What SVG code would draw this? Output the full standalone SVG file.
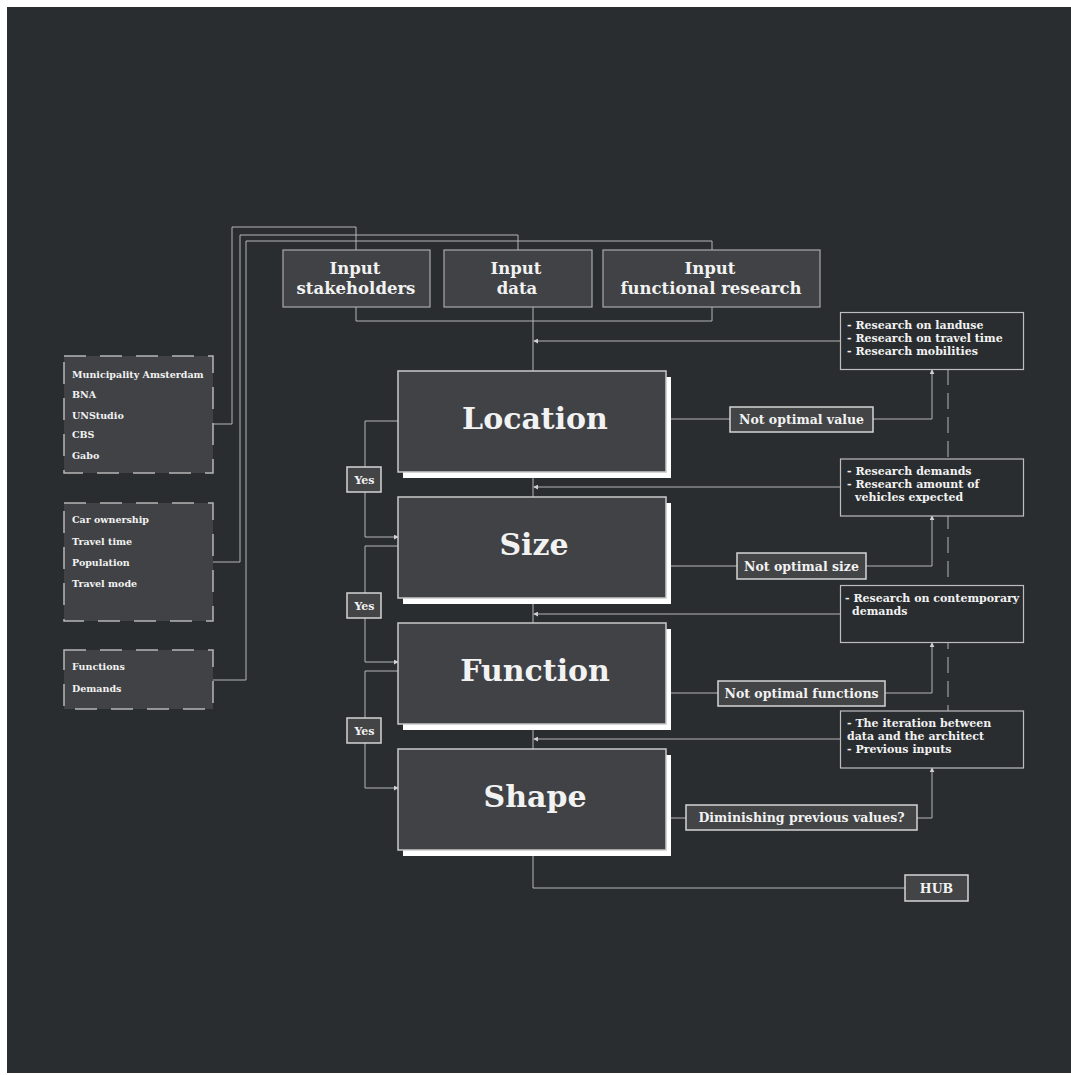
<svg xmlns="http://www.w3.org/2000/svg" width="1071" height="1075" viewBox="0 0 1071 1075">
<style>
text{font-family:"DejaVu Serif","Liberation Serif",serif;font-weight:bold;fill:#f2f2f2}
.bg{fill:#2a2d30}
.main{fill:#404245;stroke:#c9c9c9;stroke-width:1.5}
.shadow{fill:#ffffff}
.inp{fill:#404245;stroke:#a9a9a9;stroke-width:1.2}
.lbl{fill:#424446;stroke:#d4d4d4;stroke-width:1.5}
.res{fill:#2a2d30;stroke:#bdbdbd;stroke-width:1.2}
.dash{fill:#404245;stroke:#b5b5b5;stroke-width:1.5;stroke-dasharray:22 14}
.ln{fill:none;stroke:#b5b5b5;stroke-width:1}
.big{font-size:30px;text-anchor:middle}
.inT{font-size:16.5px;text-anchor:middle}
.lt{font-size:12.5px;text-anchor:middle}
.rt{font-size:11px}
.st{font-size:9.5px}
.yes{font-size:11px;text-anchor:middle}
</style>
<defs>
<marker id="ah" viewBox="0 0 6 6" refX="5" refY="3" markerWidth="5" markerHeight="5" orient="auto" markerUnits="userSpaceOnUse">
<path d="M0,0 L6,3 L0,6 z" fill="#d0d0d0"/>
</marker>
</defs>
<rect x="0" y="0" width="1071" height="1075" fill="#ffffff"/>
<rect class="bg" x="7" y="7" width="1064" height="1066"/>

<g id="connectors">
<polyline class="ln" points="213,424 232,424 232,227 356,227 356,250"/>
<polyline class="ln" points="213,562 240,562 240,235 518,235 518,250"/>
<polyline class="ln" points="213,680 246,680 246,241 712,241 712,250"/>
<polyline class="ln" points="356,307 356,321 712,321 712,307"/>
<line class="ln" x1="533" y1="307" x2="533" y2="371"/>
<line class="ln" x1="840" y1="341" x2="534" y2="341" marker-end="url(#ah)"/>
<line class="ln" x1="533" y1="472" x2="533" y2="497"/>
<line class="ln" x1="840" y1="487" x2="534" y2="487" marker-end="url(#ah)"/>
<line class="ln" x1="533" y1="598" x2="533" y2="623"/>
<line class="ln" x1="840" y1="614" x2="534" y2="614" marker-end="url(#ah)"/>
<line class="ln" x1="533" y1="724" x2="533" y2="749"/>
<line class="ln" x1="840" y1="739" x2="534" y2="739" marker-end="url(#ah)"/>
<polyline class="ln" points="533,849 533,888 905,888"/>
<line class="ln" x1="666" y1="419" x2="730" y2="419"/>
<polyline class="ln" points="873,419 932,419 932,370" marker-end="url(#ah)"/>
<line class="ln" x1="666" y1="566" x2="737" y2="566"/>
<polyline class="ln" points="866,566 932,566 932,516" marker-end="url(#ah)"/>
<line class="ln" x1="666" y1="693" x2="718" y2="693"/>
<polyline class="ln" points="885,693 932,693 932,643" marker-end="url(#ah)"/>
<line class="ln" x1="666" y1="818" x2="686" y2="818"/>
<polyline class="ln" points="917,818 932,818 932,768" marker-end="url(#ah)"/>
<line class="ln" x1="948" y1="369" x2="948" y2="711" stroke-dasharray="16 8"/>
<polyline class="ln" points="398,421 365,421 365,467"/>
<polyline class="ln" points="365,492 365,537 398,537" marker-end="url(#ah)"/>
<polyline class="ln" points="398,546 365,546 365,593"/>
<polyline class="ln" points="365,618 365,662 398,662" marker-end="url(#ah)"/>
<polyline class="ln" points="398,671 365,671 365,718"/>
<polyline class="ln" points="365,743 365,788 398,788" marker-end="url(#ah)"/>
</g>

<g id="input-stakeholders">
<rect class="inp" x="283" y="250" width="147" height="57"/>
<text class="inT" x="355" y="274">Input</text>
<text class="inT" x="356" y="294">stakeholders</text>
</g>
<g id="input-data">
<rect class="inp" x="444" y="250" width="148" height="57"/>
<text class="inT" x="516" y="274">Input</text>
<text class="inT" x="517" y="294">data</text>
</g>
<g id="input-functional">
<rect class="inp" x="603" y="250" width="217" height="57"/>
<text class="inT" x="710" y="274">Input</text>
<text class="inT" x="711" y="294">functional research</text>
</g>

<g id="stakeholders-list">
<rect class="dash" x="64" y="356" width="149" height="117"/>
<text class="st" x="72" y="378">Municipality Amsterdam</text>
<text class="st" x="72" y="398">BNA</text>
<text class="st" x="72" y="419">UNStudio</text>
<text class="st" x="72" y="438">CBS</text>
<text class="st" x="72" y="459">Gabo</text>
</g>
<g id="data-list">
<rect class="dash" x="64" y="503" width="149" height="118"/>
<text class="st" x="72" y="523">Car ownership</text>
<text class="st" x="72" y="545">Travel time</text>
<text class="st" x="72" y="566">Population</text>
<text class="st" x="72" y="587">Travel mode</text>
</g>
<g id="functions-list">
<rect class="dash" x="64" y="650" width="149" height="59"/>
<text class="st" x="72" y="670">Functions</text>
<text class="st" x="72" y="692">Demands</text>
</g>

<g id="location">
<rect class="shadow" x="403" y="377" width="268" height="101"/>
<rect class="main" x="398" y="371" width="268" height="101"/>
<text class="big" x="535" y="429">Location</text>
</g>
<g id="size">
<rect class="shadow" x="403" y="503" width="268" height="101"/>
<rect class="main" x="398" y="497" width="268" height="101"/>
<text class="big" x="534" y="555">Size</text>
</g>
<g id="function">
<rect class="shadow" x="403" y="629" width="268" height="101"/>
<rect class="main" x="398" y="623" width="268" height="101"/>
<text class="big" x="535" y="681">Function</text>
</g>
<g id="shape">
<rect class="shadow" x="403" y="755" width="268" height="101"/>
<rect class="main" x="398" y="749" width="268" height="101"/>
<text class="big" x="535" y="807">Shape</text>
</g>

<g id="yes1">
<rect class="lbl" x="347" y="467" width="34" height="25" stroke-width="1"/>
<text class="yes" x="364.5" y="484">Yes</text>
</g>
<g id="yes2">
<rect class="lbl" x="347" y="593" width="34" height="25" stroke-width="1"/>
<text class="yes" x="364.5" y="610">Yes</text>
</g>
<g id="yes3">
<rect class="lbl" x="347" y="718" width="34" height="25" stroke-width="1"/>
<text class="yes" x="364.5" y="735">Yes</text>
</g>

<g id="not-optimal-value">
<rect class="lbl" x="730" y="407" width="143" height="25"/>
<text class="lt" x="801.5" y="424">Not optimal value</text>
</g>
<g id="not-optimal-size">
<rect class="lbl" x="737" y="553" width="129" height="26"/>
<text class="lt" x="801.5" y="570.5">Not optimal size</text>
</g>
<g id="not-optimal-functions">
<rect class="lbl" x="718" y="681" width="167" height="25"/>
<text class="lt" x="801.5" y="698">Not optimal functions</text>
</g>
<g id="diminishing">
<rect class="lbl" x="686" y="805" width="231" height="25"/>
<text class="lt" x="801.5" y="822">Diminishing previous values?</text>
</g>

<g id="research-location">
<rect class="res" x="840.5" y="312.5" width="183" height="57"/>
<text class="rt" x="847" y="329">- Research on landuse</text>
<text class="rt" x="847" y="342">- Research on travel time</text>
<text class="rt" x="847" y="355">- Research mobilities</text>
</g>
<g id="research-size">
<rect class="res" x="840.5" y="459" width="183" height="57"/>
<text class="rt" x="847" y="475">- Research demands</text>
<text class="rt" x="847" y="488">- Research amount of</text>
<text class="rt" x="855" y="501">vehicles expected</text>
</g>
<g id="research-function">
<rect class="res" x="840.5" y="585.5" width="183" height="57"/>
<text class="rt" x="845" y="602">- Research on contemporary</text>
<text class="rt" x="852" y="615">demands</text>
</g>
<g id="research-shape">
<rect class="res" x="840.5" y="711" width="183" height="57"/>
<text class="rt" x="847" y="727">- The iteration between</text>
<text class="rt" x="847" y="740">data and the architect</text>
<text class="rt" x="847" y="753">- Previous inputs</text>
</g>

<g id="hub">
<rect class="lbl" x="905" y="875" width="63" height="26"/>
<text class="lt" x="936.5" y="892.5">HUB</text>
</g>
</svg>
